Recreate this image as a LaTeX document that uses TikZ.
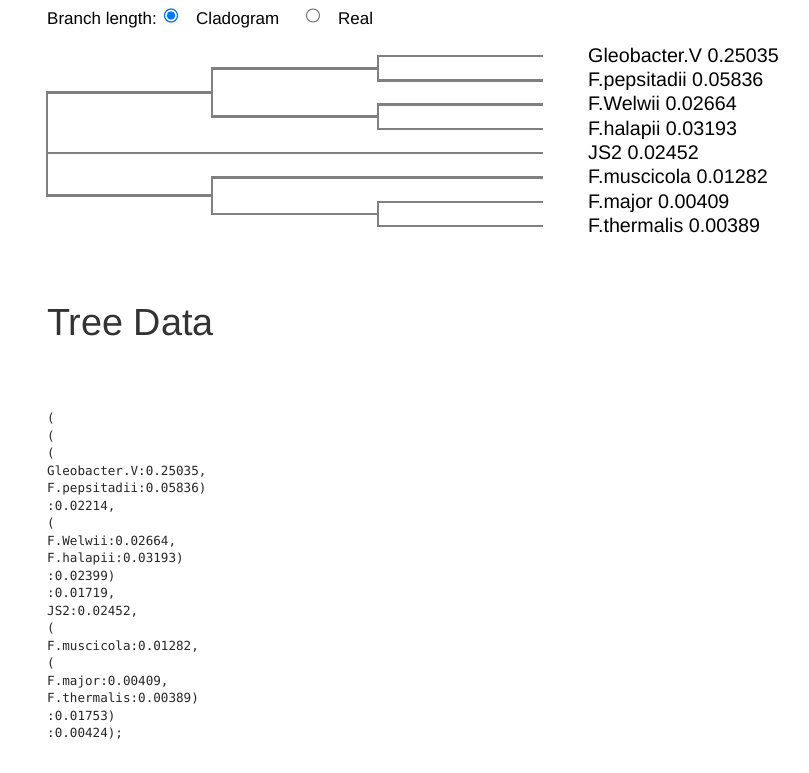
\documentclass[tikz,border=0pt]{standalone}
\usepackage{fontspec}
\setmainfont{Liberation Sans}
\setmonofont{DejaVu Sans Mono}
\definecolor{branchgray}{RGB}{128,128,128}
\definecolor{radioblue}{RGB}{0,117,255}
\definecolor{radiogray}{RGB}{118,118,118}
\definecolor{headgray}{RGB}{51,51,51}
\tikzset{branch/.style = {draw = branchgray,line width = 2.4pt},
leaf/.style = {anchor = base west,inner sep = 0pt,font = \fontsize{19.7}{22}\selectfont},
head/.style = {anchor = base west,inner sep = 0pt,font = \fontsize{17}{20}\selectfont},
radio/.style = {circle,minimum size = 13pt,inner sep = 0pt,fill = white,draw = #1,line width = 1.2pt}}

\begin{document}
\begin{tikzpicture}[x = 1pt,y = -1pt]
\useasboundingbox[fill = white] (0,0) rectangle (809,773);

% header with the two radio buttons
\node[head] (bl) at (47,25) {Branch length:};
\node[radio = radioblue] (rclado) at (171,15.5) {};
\node[circle,fill = radioblue,minimum size = 8.5pt,inner sep = 0pt] (rdot) at (rclado.center) {};
\node[head] (clado) at (196,25) {Cladogram};
\node[radio = radiogray,line width = 1pt] (rreal) at (313,15.5) {};
\node[head] (real) at (338,25) {Real};

% tree
\coordinate (root) at (47,153);
\coordinate (nA) at (212,92.5);
\coordinate (nB) at (212,195.5);
\coordinate (nA1) at (378,68.5);
\coordinate (nA2) at (378,116.5);
\coordinate (nB1) at (378,214);
\coordinate (lGleo) at (543,56);
\coordinate (lPep) at (543,80.5);
\coordinate (lWel) at (543,104.5);
\coordinate (lHal) at (543,129);
\coordinate (lJS2) at (543,153);
\coordinate (lMus) at (543,177.5);
\coordinate (lMaj) at (543,202);
\coordinate (lTher) at (543,226);

\draw[branch] (root) |- (nA);
\draw[branch] (root) |- (nB);
\draw[branch] (root) -- (lJS2);
\draw[branch] (nA) |- (nA1);
\draw[branch] (nA) |- (nA2);
\draw[branch] (nA1) |- (lGleo);
\draw[branch] (nA1) |- (lPep);
\draw[branch] (nA2) |- (lWel);
\draw[branch] (nA2) |- (lHal);
\draw[branch] (nB) |- (lMus);
\draw[branch] (nB) |- (nB1);
\draw[branch] (nB1) |- (lMaj);
\draw[branch] (nB1) |- (lTher);

\node[leaf] (tGleo) at (588,62.5) {Gleobacter.V 0.25035};
\node[leaf] (tPep) at (588,87) {F.pepsitadii 0.05836};
\node[leaf] (tWel) at (588,111) {F.Welwii 0.02664};
\node[leaf] (tHal) at (588,135.5) {F.halapii 0.03193};
\node[leaf] (tJS2) at (588,159.5) {JS2 0.02452};
\node[leaf] (tMus) at (588,184) {F.muscicola 0.01282};
\node[leaf] (tMaj) at (588,208.5) {F.major 0.00409};
\node[leaf] (tTher) at (588,232.5) {F.thermalis 0.00389};

% tree data
\node[anchor = base west,inner sep = 0pt,text = headgray,font = \fontsize{37.8}{42}\selectfont] (title) at (47,335) {Tree Data};
\node[anchor = base west,inner sep = 0pt,align = left,text = black!85,font = \ttfamily\fontsize{12.6}{17.5}\selectfont] (data) at (47,737.5) {(\\
(\\
(\\
Gleobacter.V:0.25035,\\
F.pepsitadii:0.05836)\\
:0.02214,\\
(\\
F.Welwii:0.02664,\\
F.halapii:0.03193)\\
:0.02399)\\
:0.01719,\\
JS2:0.02452,\\
(\\
F.muscicola:0.01282,\\
(\\
F.major:0.00409,\\
F.thermalis:0.00389)\\
:0.01753)\\
:0.00424);};
\end{tikzpicture}
\end{document}
